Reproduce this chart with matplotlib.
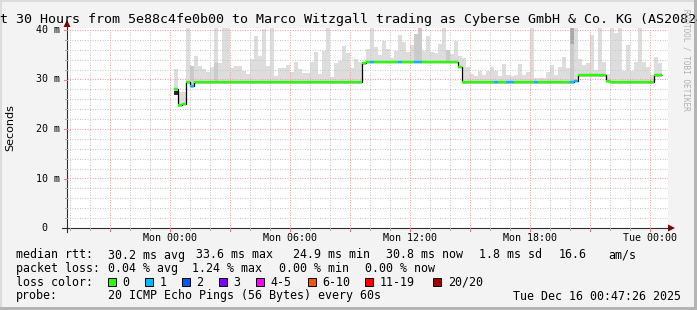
import numpy as np
import matplotlib
matplotlib.use("Agg")
import matplotlib.pyplot as plt
from matplotlib.patches import Rectangle, Polygon
from matplotlib.lines import Line2D

# ---------------- data ----------------
title = "Last 30 Hours from 5e88c4fe0b00 to Marco Witzgall trading as Cyberse GmbH & Co. KG (AS208245)"
ylabel = "Seconds"
watermark = "RRDTOOL / TOBI OETIKER"

# hours relative to Mon 00:00
first_sample_h = 0.215
sample_step_h = 0.2

smoke_max = [
    32.1, 27.5, 27.5, 41.0, 32.7, 34.7, 32.7, 32.1, 31.6, 32.5,
    41.0, 33.4, 41.0, 41.0, 32.3, 32.7, 32.7, 31.8, 31.1, 34.1,
    38.8, 34.7, 40.1, 32.7, 41.0, 30.8, 32.4, 32.4, 32.9, 31.6,
    33.6, 32.1, 31.4, 31.4, 33.6, 35.6, 31.2, 35.8, 41.0, 30.6,
    33.3, 33.8, 36.8, 35.3, 32.3, 34.1, 33.6, 33.6, 36.1, 41.0,
    36.5, 35.0, 37.8, 36.1, 34.3, 35.8, 39.0, 37.6, 35.6, 37.0,
    39.2, 41.0, 35.8, 38.7, 35.5, 35.3, 37.2, 41.0, 36.0, 35.1,
    37.8, 34.7, 34.3, 32.5, 31.2, 30.7, 31.7, 30.9, 31.7, 32.5,
    31.7, 30.7, 33.1, 31.0, 30.7, 31.0, 33.1, 31.0, 31.6, 41.0,
    30.3, 30.3, 30.3, 31.6, 32.9, 30.9, 32.6, 34.5, 32.3, 41.0,
    41.0, 34.1, 32.9, 33.4, 39.0, 31.9, 41.0, 33.5, 31.2, 41.0,
    39.3, 41.0, 31.7, 37.0, 31.7, 33.6, 41.0, 33.6, 32.6, 30.9,
    34.5, 33.3,
]

median_rtt = [
    28.0, 24.8, 25.1, 29.4, 28.6, 29.4, 29.4, 29.4, 29.4, 29.4,
    29.4, 29.4, 29.4, 29.4, 29.4, 29.4, 29.4, 29.4, 29.4, 29.4,
    29.4, 29.4, 29.4, 29.4, 29.4, 29.4, 29.4, 29.4, 29.4, 29.4,
    29.4, 29.4, 29.4, 29.4, 29.4, 29.4, 29.4, 29.4, 29.4, 29.4,
    29.4, 29.4, 29.4, 29.4, 29.4, 29.4, 29.4, 33.3, 33.6, 33.6,
    33.6, 33.6, 33.6, 33.6, 33.6, 33.6, 33.6, 33.6, 33.6, 33.6,
    33.6, 33.6, 33.6, 33.6, 33.6, 33.6, 33.6, 33.6, 33.6, 33.6,
    33.6, 32.6, 29.4, 29.4, 29.4, 29.4, 29.4, 29.4, 29.4, 29.4,
    29.4, 29.4, 29.4, 29.4, 29.4, 29.4, 29.4, 29.4, 29.4, 29.4,
    29.4, 29.4, 29.4, 29.4, 29.4, 29.4, 29.4, 29.4, 29.4, 29.4,
    29.7, 30.9, 30.9, 30.9, 30.9, 30.9, 30.9, 30.9, 29.6, 29.4,
    29.4, 29.4, 29.4, 29.4, 29.4, 29.4, 29.4, 29.4, 29.4, 29.4,
    30.9, 30.9,
]

# lost pings (of 20) per sample
loss_count = [
    0, 0, 0, 0, 1, 0, 0, 0, 0, 0,
    0, 0, 0, 0, 0, 0, 0, 0, 0, 0,
    0, 0, 0, 0, 0, 0, 0, 0, 0, 0,
    0, 0, 0, 0, 0, 0, 0, 0, 0, 0,
    0, 0, 0, 0, 0, 0, 0, 0, 0, 1,
    0, 0, 0, 0, 0, 0, 1, 0, 0, 0,
    1, 1, 0, 0, 0, 0, 0, 0, 0, 0,
    0, 0, 0, 0, 0, 0, 0, 0, 0, 0,
    1, 0, 0, 1, 1, 0, 0, 0, 0, 0,
    1, 0, 0, 0, 0, 0, 0, 0, 0, 1,
    1, 0, 0, 0, 0, 0, 0, 0, 0, 0,
    0, 0, 0, 0, 0, 0, 0, 0, 0, 0,
    0, 0,
]

# darker smoke layer (sample index -> upper value)
smoke_dense = {4: 32.7, 10: 33.4, 60: 39.2, 61: 41.0, 68: 36.0, 99: 41.0}
smoke_darkest = {0: (26.9, 27.7), 99: (37.2, 41.0)}

loss_labels = ["0", "1", "2", "3", "4-5", "6-10", "11-19", "20/20"]
loss_colors = ["#26ff00", "#00b8ff", "#0059ff", "#7e00ff", "#ff00ff",
               "#ff5500", "#ff0000", "#a10000"]

x_tick_hours = [0, 6, 12, 18, 24]
x_tick_labels = ["Mon 00:00", "Mon 06:00", "Mon 12:00", "Mon 18:00", "Tue 00:00"]
y_tick_values = [0, 10, 20, 30, 40]
y_tick_labels = ["0", "10 m", "20 m", "30 m", "40 m"]

stats_rtt = [("30.2 ms avg", 108), ("33.6 ms max", 195.6), ("24.9 ms min", 293.3),
             ("30.8 ms now", 385.8), ("1.8 ms sd", 479), ("16.6", 559), ("am/s", 608)]
stats_loss = [("0.04 % avg", 108), ("1.24 % max", 192.4), ("0.00 % min", 279),
              ("0.00 % now", 365.3)]
probe_text = "20 ICMP Echo Pings (56 Bytes) every 60s"
date_text = "Tue Dec 16 00:47:26 2025"

# ---------------- figure ----------------
W, H = 697, 310
MONO = "DejaVu Sans Mono"
fig = plt.figure(figsize=(W / 100, H / 100), dpi=100, facecolor="#f3f3f3")


def fxy(x, y):
    return x / W, 1 - y / H


def ptext(x, y, s, **kw):
    X, Y = fxy(x, y)
    kw.setdefault("family", MONO)
    kw.setdefault("color", "black")
    return fig.text(X, Y, s, **kw)


def pline(xs, ys, **kw):
    X = [x / W for x in xs]
    Y = [1 - y / H for y in ys]
    fig.add_artist(Line2D(X, Y, transform=fig.transFigure, **kw))


def prect(x0, y0, x1, y1, **kw):
    fig.add_artist(Rectangle((x0 / W, 1 - y1 / H), (x1 - x0) / W, (y1 - y0) / H,
                             transform=fig.transFigure, **kw))


# frame shading
prect(0, 0, W, 2, facecolor="#dcdcdc", edgecolor="none")
prect(0, 0, 2, H, facecolor="#dcdcdc", edgecolor="none")
prect(W - 3, 0, W, H, facecolor="#b4b4b4", edgecolor="none")
prect(0, H - 3, W, H, facecolor="#b4b4b4", edgecolor="none")

L, R, T, B = 67, 668, 27.5, 228
x0, y0 = fxy(L, B)
x1, y1 = fxy(R, T)
ax = fig.add_axes([x0, y0, x1 - x0, y1 - y0])
ax.set_facecolor("white")
ax.set_xlim(-5.15, 24.9)
ax.set_ylim(0, 40.5)
for s in ax.spines.values():
    s.set_visible(False)
ax.set_xticks([])
ax.set_yticks([])

n = len(median_rtt)
t = first_sample_h + sample_step_h * np.arange(n)
med = np.array(median_rtt)
top = np.array(smoke_max)

# smoke
ax.bar(t, top - (med - 0.3), bottom=med - 0.3, width=sample_step_h, align="edge",
       color="#dddddd", linewidth=0, zorder=1)
for i, v in smoke_dense.items():
    ax.bar(t[i], v - med[i], bottom=med[i], width=sample_step_h, align="edge",
           color="#cbcbcb", linewidth=0, zorder=1.2)
for i, (lo, hi) in smoke_darkest.items():
    ax.bar(t[i], hi - lo, bottom=lo, width=sample_step_h, align="edge",
           color="#2a2a2a" if i == 0 else "#a8a8a8", linewidth=0, zorder=1.4)

# grid
dot = (0, (1.0, 1.4))
for h in range(-5, 25):
    red = h % 3 == 0
    ax.axvline(h, color="#f2a0a0" if red else "#c8c8c8", lw=0.75, ls=dot, zorder=2)
for v in range(2, 41, 2):
    red = v % 10 == 0
    ax.axhline(v, color="#f2a0a0" if red else "#c8c8c8", lw=0.75, ls=dot, zorder=2)

# median line
edges = np.append(t, t[-1] + sample_step_h)
ax.stairs(med, edges, color="black", lw=0.9, zorder=3, baseline=None)
cols = [loss_colors[min(c, 7)] if c < 2 else loss_colors[2] for c in loss_count]
ax.hlines(med, edges[:-1], edges[1:], colors=cols, lw=1.7, zorder=4)

# axes lines and arrows
axis_col = "#2c2c2c"
pline([62, 670], [B, B], color=axis_col, lw=0.8)
pline([L, L], [B + 4, 24], color=axis_col, lw=0.8)
fig.add_artist(Polygon([fxy(668, B - 3.5), fxy(675, B), fxy(668, B + 3.5)],
                       closed=True, transform=fig.transFigure, color="#7f0000", lw=0))
fig.add_artist(Polygon([fxy(L - 3.5, 27), fxy(L, 20), fxy(L + 3.5, 27)],
                       closed=True, transform=fig.transFigure, color="#7f0000", lw=0))

# axis tick marks
for h in range(-5, 25):
    xp = 170 + 20 * h
    red = h % 3 == 0
    pline([xp, xp], [B, B + (3 if red else 2)], color="#f08080" if red else "#b0b0b0", lw=0.75)
for v in range(2, 41, 2):
    yp = B - v * 4.95
    red = v % 10 == 0
    pline([L - (3 if red else 2), L], [yp, yp], color="#f08080" if red else "#b0b0b0", lw=0.75)

# tick labels
for h, lab in zip(x_tick_hours, x_tick_labels):
    ptext(170 + 20 * h, 238, lab, fontsize=7.2, ha="center", va="center")
for v, lab in zip(y_tick_values, y_tick_labels):
    xr = 59.5 if v else 47.5
    ptext(xr, B - v * 4.95, lab, fontsize=7.2, ha="right", va="center")

# titles
ptext(W / 2, 19, title, fontsize=9.6, ha="center", va="center")
ptext(10.5, 128, ylabel, fontsize=8, family="DejaVu Sans", rotation=90,
      ha="center", va="center")
ptext(686, 60, watermark, fontsize=5.6, rotation=270, ha="center", va="center",
      color="#b0b0b0")

# legend
FS = 8.4
ptext(16, 255, "median rtt:", fontsize=FS, va="center")
for s, xp in stats_rtt:
    ptext(xp, 255, s, fontsize=FS, va="center")
ptext(16, 268.5, "packet loss:", fontsize=FS, va="center")
for s, xp in stats_loss:
    ptext(xp, 268.5, s, fontsize=FS, va="center")
ptext(16, 282, "loss color:", fontsize=FS, va="center")
box_x = [108, 145.3, 182, 219, 256.4, 307.6, 365.3, 433.3]
for bx, lab, c in zip(box_x, loss_labels, loss_colors):
    prect(bx, 278, bx + 8, 286, facecolor=c, edgecolor="black", lw=0.7)
    ptext(bx + 14.5, 282, lab, fontsize=FS, va="center")
ptext(16, 296, "probe:", fontsize=FS, va="center")
ptext(108, 296, probe_text, fontsize=FS, va="center")
ptext(681, 296, date_text, fontsize=FS, ha="right", va="center")

fig.savefig("out.png", dpi=100, facecolor=fig.get_facecolor())
